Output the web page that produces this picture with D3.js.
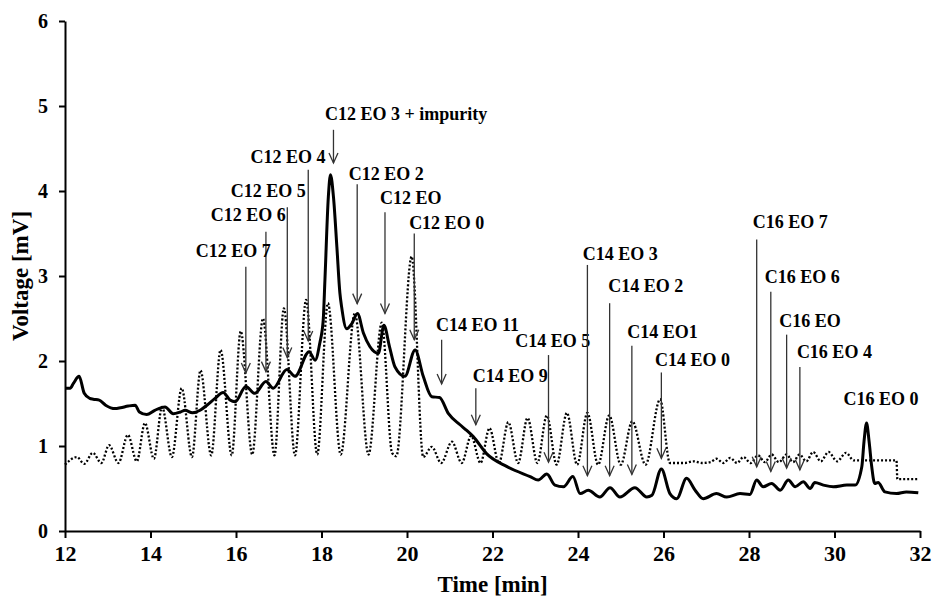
<!DOCTYPE html>
<html>
<head>
<meta charset="utf-8">
<script src="https://cdn.jsdelivr.net/npm/d3@7"></script>
<style>
  html, body { margin: 0; padding: 0; background: #fff; }
  svg { display: block; }
  text { font-family: "Liberation Serif", "Times New Roman", serif; font-weight: bold; fill: #000; }
</style>
</head>
<body>
<svg id="chart" width="932" height="603"></svg>
<script>
// ---------- DATA ----------
const xTicks = [12, 14, 16, 18, 20, 22, 24, 26, 28, 30, 32];
const yTicks = [0, 1, 2, 3, 4, 5, 6];

// Dotted trace (time [min], voltage [mV])
const dottedTime = [12.0, 12.28, 12.45, 12.65, 12.85, 13.03, 13.25, 13.47, 13.68, 13.87, 14.08, 14.27, 14.5, 14.73, 14.97, 15.17, 15.42, 15.64, 15.9, 16.11, 16.38, 16.63, 16.9, 17.12, 17.38, 17.64, 17.9, 18.15, 18.45, 18.78, 19.1, 19.41, 19.65, 19.75, 20.11, 20.38, 20.58, 20.8, 21.05, 21.28, 21.5, 21.72, 21.93, 22.15, 22.37, 22.6, 22.82, 23.05, 23.27, 23.5, 23.74, 23.98, 24.22, 24.47, 24.73, 25.0, 25.27, 25.58, 25.92, 26.15, 26.5, 26.7, 26.9, 27.1, 27.24, 27.4, 27.56, 27.72, 27.87, 28.04, 28.21, 28.37, 28.53, 28.7, 28.88, 29.03, 29.18, 29.34, 29.5, 29.68, 29.86, 30.06, 30.27, 30.45, 30.7, 31.45, 31.47, 31.97];
const dottedVolt = [0.78, 0.87, 0.79, 0.92, 0.80, 1.01, 0.80, 1.13, 0.82, 1.27, 0.85, 1.46, 0.87, 1.68, 0.87, 1.89, 0.89, 2.13, 0.89, 2.35, 0.90, 2.50, 0.89, 2.62, 0.89, 2.72, 0.90, 2.68, 0.90, 2.56, 0.90, 2.45, 0.92, 0.88, 3.23, 0.87, 0.99, 0.80, 1.05, 0.80, 1.12, 0.80, 1.21, 0.80, 1.28, 0.80, 1.33, 0.80, 1.36, 0.78, 1.39, 0.78, 1.39, 0.78, 1.36, 0.78, 1.29, 0.78, 1.55, 0.80, 0.80, 0.82, 0.80, 0.81, 0.85, 0.80, 0.86, 0.80, 0.87, 0.80, 0.89, 0.81, 0.90, 0.81, 0.90, 0.81, 0.90, 0.82, 0.93, 0.82, 0.93, 0.82, 0.92, 0.83, 0.83, 0.83, 0.61, 0.61];

// Solid trace (time [min], voltage [mV])
const solidTime = [12.0, 12.12, 12.2, 12.33, 12.45, 12.58, 12.66, 12.8, 12.95, 13.17, 13.3, 13.48, 13.64, 13.74, 13.91, 14.1, 14.34, 14.53, 14.7, 14.81, 14.98, 15.16, 15.32, 15.51, 15.70, 15.86, 15.98, 16.23, 16.44, 16.70, 16.87, 17.19, 17.38, 17.71, 17.85, 17.96, 18.04, 18.08, 18.16, 18.21, 18.28, 18.36, 18.43, 18.47, 18.59, 18.71, 18.84, 18.98, 19.13, 19.33, 19.46, 19.59, 19.72, 19.95, 20.19, 20.38, 20.58, 20.76, 20.97, 21.24, 21.38, 21.55, 21.86, 22.33, 22.88, 23.07, 23.27, 23.46, 23.66, 23.88, 24.05, 24.24, 24.51, 24.75, 24.98, 25.33, 25.61, 25.73, 25.95, 26.15, 26.31, 26.54, 26.74, 26.93, 27.24, 27.48, 27.79, 28.02, 28.18, 28.33, 28.53, 28.73, 28.92, 29.08, 29.27, 29.43, 29.54, 29.74, 29.97, 30.29, 30.48, 30.64, 30.69, 30.75, 30.81, 30.87, 30.94, 31.02, 31.18, 31.45, 31.68, 31.96];
const solidVolt = [1.68, 1.68, 1.74, 1.82, 1.62, 1.56, 1.55, 1.54, 1.48, 1.44, 1.45, 1.47, 1.48, 1.40, 1.37, 1.42, 1.46, 1.38, 1.40, 1.42, 1.39, 1.42, 1.48, 1.56, 1.63, 1.54, 1.52, 1.70, 1.62, 1.76, 1.68, 1.90, 1.82, 2.11, 2.01, 2.21, 2.48, 2.95, 3.93, 4.19, 3.93, 3.34, 2.80, 2.64, 2.38, 2.44, 2.56, 2.33, 2.17, 2.09, 2.42, 2.17, 1.93, 1.82, 2.13, 1.82, 1.58, 1.57, 1.38, 1.25, 1.19, 1.11, 0.91, 0.76, 0.64, 0.60, 0.67, 0.54, 0.52, 0.64, 0.44, 0.48, 0.40, 0.51, 0.40, 0.51, 0.40, 0.42, 0.73, 0.44, 0.38, 0.62, 0.48, 0.38, 0.44, 0.40, 0.44, 0.43, 0.60, 0.52, 0.56, 0.48, 0.60, 0.52, 0.58, 0.50, 0.57, 0.54, 0.52, 0.54, 0.54, 0.76, 1.05, 1.27, 1.05, 0.76, 0.56, 0.57, 0.46, 0.44, 0.46, 0.45];

// Peak annotations (in data units)
const annLabels    = ["C12 EO 3 + impurity", "C12 EO 4", "C12 EO 5", "C12 EO 6", "C12 EO 7", "C12 EO 2", "C12 EO", "C12 EO 0", "C14 EO 11", "C14 EO 9", "C14 EO 5", "C14 EO 3", "C14 EO 2", "C14 EO1", "C14 EO 0", "C16 EO 7", "C16 EO 6", "C16 EO", "C16 EO 4", "C16 EO 0"];
const annTextTime  = [18.08, 16.34, 15.88, 15.41, 15.06, 18.64, 19.37, 20.05, 20.68, 21.54, 22.53, 24.11, 24.71, 25.15, 25.80, 28.09, 28.37, 28.71, 29.12, 30.21];
const annTextVolt  = [4.835, 4.33, 3.935, 3.645, 3.22, 4.13, 3.85, 3.55, 2.35, 1.75, 2.17, 3.19, 2.815, 2.27, 1.94, 3.57, 2.915, 2.40, 2.03, 1.48];
const annArrowTime = [18.28, 17.69, 17.20, 16.70, 16.23, 18.835, 19.485, 20.17, 20.81, 21.61, 23.31, 24.22, 24.74, 25.26, 25.95, 28.18, 28.51, 28.88, 29.19, null];
const annArrowFrom = [4.72, 4.25, 3.81, 3.52, 3.11, 4.08, 3.75, 3.50, 2.25, 1.68, 2.07, 3.13, 2.68, 2.18, 1.865, 3.43, 2.815, 2.31, 1.93, null];
const annArrowTo   = [4.33, 2.235, 2.04, 1.875, 1.86, 2.675, 2.56, 2.25, 1.73, 1.25, 0.81, 0.65, 0.65, 0.665, 0.855, 0.755, 0.70, 0.74, 0.72, null];

// ---------- CHART ----------
const svg = d3.select("#chart");
const x = d3.scaleLinear().domain([12, 32]).range([65, 920]);
const y = d3.scaleLinear().domain([0, 6]).range([531, 21]);

// traces
const dotted = dottedTime.map((t, i) => [t, dottedVolt[i]]);
const solid = solidTime.map((t, i) => [t, solidVolt[i]]);
const line = d3.line().x(d => x(d[0])).y(d => y(d[1])).curve(d3.curveMonotoneX);

svg.append("path").datum(dotted)
  .attr("d", line).attr("fill", "none").attr("stroke", "#000")
  .attr("stroke-width", 2.3).attr("stroke-dasharray", "2,2");

svg.append("path").datum(solid)
  .attr("d", line).attr("fill", "none").attr("stroke", "#000")
  .attr("stroke-width", 3).attr("stroke-linejoin", "round");

// annotations
const ann = svg.append("g");
annLabels.forEach((lab, i) => {
  ann.append("text")
    .attr("x", x(annTextTime[i])).attr("y", y(annTextVolt[i]))
    .attr("font-size", 18).text(lab);
  if (annArrowTime[i] !== null) {
    const ax = x(annArrowTime[i]);
    const y0 = y(annArrowFrom[i]);
    const y1 = y(annArrowTo[i]);
    ann.append("line").attr("x1", ax).attr("x2", ax).attr("y1", y0).attr("y2", y1)
      .attr("stroke", "#333").attr("stroke-width", 1.3);
    ann.append("path")
      .attr("d", `M${ax - 4.5},${y1 - 10}L${ax},${y1}L${ax + 4.5},${y1 - 10}`)
      .attr("fill", "none").attr("stroke", "#333").attr("stroke-width", 1.3);
  }
});

// axes
const yAxis = svg.append("g").attr("transform", "translate(65,0)")
  .call(d3.axisLeft(y).tickValues(yTicks).tickSize(6).tickSizeOuter(0).tickPadding(11).tickFormat(d3.format("d")));
yAxis.select(".domain").attr("stroke", "#000").attr("stroke-width", 2);
yAxis.selectAll(".tick line").attr("stroke", "#000").attr("stroke-width", 2);
yAxis.selectAll(".tick text").attr("font-size", 20)
  .attr("font-family", "Liberation Serif, Times New Roman, serif").attr("font-weight", "bold");

const xAxis = svg.append("g").attr("transform", "translate(0,531)")
  .call(d3.axisBottom(x).tickValues(xTicks).tickSize(7).tickSizeOuter(0).tickPadding(7).tickFormat(d3.format("d")));
xAxis.select(".domain").attr("stroke", "#000").attr("stroke-width", 2);
xAxis.selectAll(".tick line").attr("stroke", "#000").attr("stroke-width", 2);
xAxis.selectAll(".tick text").attr("font-size", 22)
  .attr("font-family", "Liberation Serif, Times New Roman, serif").attr("font-weight", "bold");

// axis titles
svg.append("text").attr("x", (65 + 920) / 2).attr("y", 592)
  .attr("text-anchor", "middle").attr("font-size", 23).text("Time [min]");
svg.append("text").attr("transform", "translate(28,276) rotate(-90)")
  .attr("text-anchor", "middle").attr("font-size", 23).text("Voltage [mV]");
</script>
</body>
</html>
